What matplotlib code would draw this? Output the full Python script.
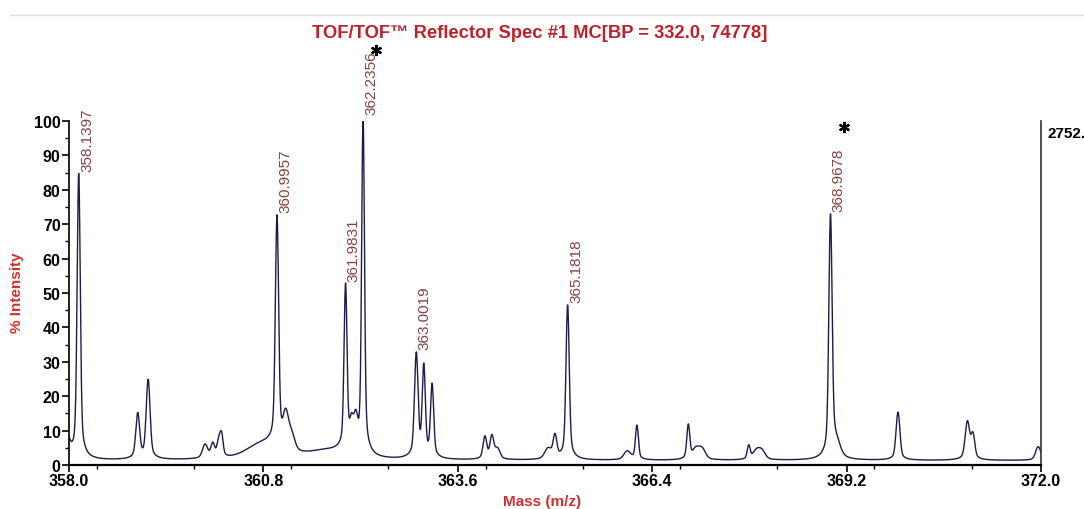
import numpy as np
import matplotlib
matplotlib.use("Agg")
import matplotlib.pyplot as plt
from matplotlib.ticker import MultipleLocator
from matplotlib.transforms import offset_copy

plt.rcParams['font.family'] = ['Liberation Sans', 'DejaVu Sans']

# peak list (m/z, % intensity, width)
peak_mz = [357.97, 358.1397, 358.99, 359.14, 359.96, 360.07, 360.16, 360.20,
           360.80, 360.9957, 361.12, 361.20, 361.75, 361.9831, 362.07, 362.13,
           362.2356, 363.0019, 363.11, 363.23, 363.99, 364.09, 364.17,
           364.90, 365.00, 365.1818, 366.04, 366.18, 366.92, 367.03, 367.12,
           367.79, 367.90, 367.98, 368.9678, 369.05, 369.94, 370.94, 371.02,
           371.96]
peak_h = [6, 83, 13, 23, 4, 4, 5, 5.5,
          4.5, 67, 9, 5, 2.5, 48, 7, 8,
          98, 30, 26, 21, 6.5, 6.5, 3,
          3, 6.5, 45, 2.5, 10, 10, 3, 3,
          4, 2.5, 2.5, 70, 4, 14, 11, 7,
          4]
peak_w = [0.04, 0.021, 0.026, 0.026, 0.035, 0.025, 0.025, 0.02,
          0.22, 0.022, 0.035, 0.045, 0.3, 0.02, 0.025, 0.025,
          0.019, 0.024, 0.021, 0.021, 0.025, 0.025, 0.035,
          0.045, 0.025, 0.022, 0.045, 0.02, 0.02, 0.045, 0.045,
          0.02, 0.045, 0.045, 0.022, 0.055, 0.026, 0.03, 0.025,
          0.035]
baseline = 1.3

labels = ['358.1397', '360.9957', '361.9831', '362.2356', '363.0019',
          '365.1818', '368.9678']
starred = ['362.2356', '368.9678']

x_ticks = [358.0, 360.8, 363.6, 366.4, 369.2, 372.0]

mz = np.linspace(358.0, 372.0, 4000)
inten = np.full_like(mz, baseline)
for c, h, w in zip(peak_mz, peak_h, peak_w):
    g = np.exp(-0.5 * ((mz - c) / w) ** 2)
    l = 1.0 / (1.0 + ((mz - c) / (2.5 * w)) ** 2)
    inten += h * (0.8 * g + 0.2 * l)

fig = plt.figure(figsize=(10.84, 5.10), dpi=100)
ax = fig.add_axes([69 / 1084, 1 - 466 / 510, (1041 - 69) / 1084, (466 - 122) / 510])

ax.plot(mz, inten, color='#1c1c4c', lw=1.0)
ax.set_xlim(358.0, 372.0)
ax.set_ylim(0, 100)

ax.spines['top'].set_visible(False)
ax.spines['right'].set_color('#333333')
ax.spines['right'].set_linewidth(1.2)
ax.spines['left'].set_linewidth(1.2)
ax.spines['bottom'].set_linewidth(1.6)

ax.set_xticks(x_ticks)
ax.set_xticklabels(['%.1f' % t for t in x_ticks])
ax.xaxis.set_minor_locator(MultipleLocator(1.4))
ax.yaxis.set_major_locator(MultipleLocator(10))
ax.yaxis.set_minor_locator(MultipleLocator(5))
ax.tick_params(axis='both', which='major', direction='out', length=5, width=1.2,
               labelsize=11.5, pad=1)
ax.tick_params(axis='both', which='minor', direction='out', length=3, width=1.0)
ax.tick_params(axis='y', right=False)
for t in ax.get_xticklabels() + ax.get_yticklabels():
    t.set_fontweight('bold')

# peak labels
for lab in labels:
    m = float(lab)
    top = np.interp(m, mz, inten)
    ax.annotate(lab, (m, top), xytext=(1, 2), textcoords='offset points',
                rotation=90, ha='left', va='bottom', fontsize=11,
                color='#8a4040', annotation_clip=False)

# asterisks drawn as markers above the starred labels
for lab, (dx, dy) in zip(starred, [(9.4, 48), (9.4, 63)]):
    m = float(lab)
    tr = offset_copy(ax.transData, fig=fig, x=dx, y=dy, units='points')
    ax.plot([m], [np.interp(m, mz, inten)], transform=tr, marker=(6, 2, 0),
            ms=8, mew=1.6, color='black', clip_on=False)

fig.text(540 / 1084, 1 - 34 / 510, 'TOF/TOF\u2122 Reflector Spec #1 MC[BP = 332.0, 74778]',
         ha='center', va='center', fontsize=13.2, fontweight='bold', color='#c0202a')
fig.text(17 / 1084, 1 - 293 / 510, '% Intensity', rotation=90, ha='center', va='center',
         fontsize=11, fontweight='bold', color='#d03030')
fig.text(542 / 1084, 1 - 502 / 510, 'Mass (m/z)', ha='center', va='center',
         fontsize=11, fontweight='bold', color='#d03030')
fig.text(1047 / 1084, 1 - 134 / 510, '2752.', ha='left', va='center',
         fontsize=11, fontweight='bold', color='black')

# thin grey rule along the top of the window
fig.add_artist(plt.Line2D([10 / 1084, 1], [1 - 16 / 510, 1 - 16 / 510],
                          transform=fig.transFigure, color='#dddddd', lw=1))

fig.savefig('out.png', dpi=100)
